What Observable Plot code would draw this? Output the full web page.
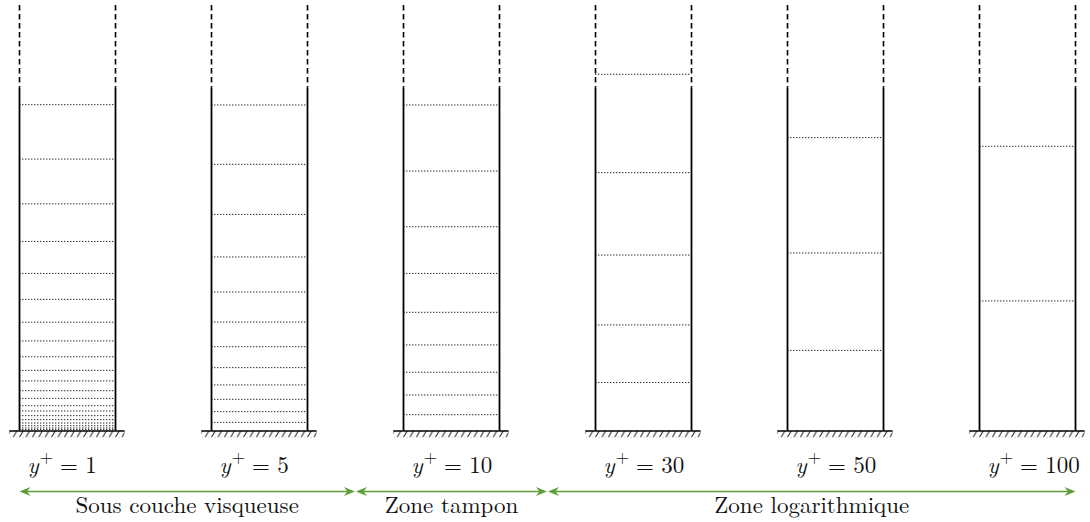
<!DOCTYPE html>
<html>
<head>
<meta charset="utf-8">
<script src="https://cdn.jsdelivr.net/npm/d3@7"></script>
<script src="https://cdn.jsdelivr.net/npm/@observablehq/plot@0.6"></script>
<style>
  html, body { margin: 0; padding: 0; background: #fff; }
  #chart svg { display: block; }
</style>
</head>
<body>
<div id="chart"></div>
<script>
// ---- data (wall distances of the mesh layers, in wall units ≈ y+) ----
const cases = ["1", "5", "10", "30", "50", "100"];
const layersYp1 = [1.0, 1.9, 3.3, 5.0, 7.1, 9.6, 12.5, 15.8, 20.4, 25.2, 31.3, 37.9, 46.4, 56.3, 68.0, 82.3, 98.5, 118.5, 142.0, 170.0, 204.0];
const layersYp5 = [5.4, 12.1, 19.8, 28.8, 39.6, 52.7, 68.1, 86.9, 108.8, 135.4, 166.7, 203.8];
const layersYp10 = [10.2, 22.5, 36.7, 53.8, 74.2, 98.5, 127.7, 162.5, 203.8];
const layersYp30 = [30.3, 66.3, 110.0, 161.5, 223.0];
const layersYp50 = [50.4, 111.3, 183.4];
const layersYp100 = [81.3, 178.0];
const zoneLabels = ["Sous couche visqueuse", "Zone tampon", "Zone logarithmique"];
const zoneFirst = [0, 2, 3];   // index of first case in zone
const zoneLast = [1, 2, 5];    // index of last case in zone

// ---- derived tables ----
const layerSets = [layersYp1, layersYp5, layersYp10, layersYp30, layersYp50, layersYp100];
const wallTop = 214.4, domainTop = 266;
const n = cases.length;
const layers = layerSets.flatMap((arr, i) => arr.map(h => ({i, h})));
const walls = cases.flatMap((c, i) => [2 * i, 2 * i + 1]);
const grounds = cases.map((c, i) => ({x1: 2 * i - 0.1, x2: 2 * i + 1.1}));
const zones = zoneLabels.map((label, k) => {
  const a = zoneFirst[k] === 0 ? 0 : 2 * zoneFirst[k] - 0.5 + 0.006;
  const b = zoneLast[k] === n - 1 ? 2 * zoneLast[k] + 1 : 2 * zoneLast[k] + 1.5 - 0.006;
  return {label, a, b, mid: (a + b) / 2};
});
const heads = zones.flatMap(z => [{x: z.a, r: 180}, {x: z.b, r: 0}]);

const green = "#5e9d3a";
const serif = "Latin Modern Roman, Liberation Serif, DejaVu Serif, serif";
const stealth = {
  draw(ctx) {
    ctx.moveTo(0, 0);
    ctx.lineTo(-11, -4.6);
    ctx.lineTo(-7.5, 0);
    ctx.lineTo(-11, 4.6);
    ctx.closePath();
  }
};

const plot = Plot.plot({
  width: 1090,
  height: 522,
  marginLeft: 19,
  marginRight: 15,
  marginTop: 5,
  marginBottom: 91.5,
  x: {domain: [0, 2 * n - 1], axis: null},
  y: {domain: [0, domainTop], axis: null},
  style: {background: "#fff", overflow: "visible", fontFamily: serif},
  marks: [
    // mesh layers (dotted)
    Plot.ruleY(layers, {y: "h", x1: d => 2 * d.i, x2: d => 2 * d.i + 1,
      stroke: "#000", strokeWidth: 0.85, strokeDasharray: "1.4,1.6"}),
    // solid walls
    Plot.ruleX(walls, {x: d => d, y1: 0, y2: wallTop, stroke: "#000", strokeWidth: 1.8}),
    // dashed continuation
    Plot.ruleX(walls, {x: d => d, y1: domainTop, y2: wallTop, stroke: "#000", strokeWidth: 1.6, strokeDasharray: "5.5,3.5"}),
    // hatching under the ground
    Plot.rect(grounds, {x1: "x1", x2: "x2", y1: 0, y2: 0, insetBottom: -7, fill: "url(#hatch)"}),
    // ground line
    Plot.ruleY(grounds, {y: 0, x1: "x1", x2: "x2", stroke: "#000", strokeWidth: 1.6}),
    // y+ labels
    Plot.text(cases, {x: (d, i) => 2 * i, y: 0, text: d => d, dx: 8, dy: 41.5,
      textAnchor: "start", lineAnchor: "bottom", fontSize: 23, fontFamily: serif,
      fill: "#111", ariaLabel: () => "yplus"}),
    // zone arrows
    Plot.ruleY(zones, {y: 0, x1: "a", x2: "b", dy: 60.5, stroke: green, strokeWidth: 1.7, insetLeft: 3, insetRight: 3}),
    Plot.dot(heads, {x: "x", y: 0, dy: 60.5, rotate: "r", symbol: stealth, fill: green, stroke: "none"}),
    // zone labels
    Plot.text(zones, {x: "mid", y: 0, text: "label", dy: 81.5, lineAnchor: "bottom",
      fontSize: 23, fontFamily: serif, fill: "#111"}),
  ]
});

// hatch pattern aligned on the ground line
const y0 = plot.scale("y").apply(0);
const ns = "http://www.w3.org/2000/svg";
const defs = document.createElementNS(ns, "defs");
defs.innerHTML = `<pattern id="hatch" patternUnits="userSpaceOnUse" x="0" y="${y0}" width="6.4" height="7">
  <path d="M0.2,7 L4.2,0" stroke="#111" stroke-width="0.95" fill="none"/></pattern>`;
plot.insertBefore(defs, plot.firstChild);

// math-style y+ labels
const textGroups = [...plot.querySelectorAll('g[aria-label="text"]')];
let yTexts = [...plot.querySelectorAll('text[aria-label="yplus"], g[aria-label="yplus"] text')];
if (!yTexts.length && textGroups.length) yTexts = [...textGroups[0].querySelectorAll("text")];
yTexts.forEach(t => {
  const val = t.textContent;
  while (t.firstChild) t.removeChild(t.firstChild);
  const mk = (txt, attrs) => {
    const s = document.createElementNS(ns, "tspan");
    s.textContent = txt;
    for (const k in attrs) s.setAttribute(k, attrs[k]);
    t.appendChild(s);
  };
  mk("y", {"font-style": "italic"});
  mk("+", {"font-size": "17", dy: "-9.5", dx: "1"});
  mk("=", {dy: "9.5", dx: "7"});
  mk(val, {dx: "7.5"});
});

document.getElementById("chart").appendChild(plot);
</script>
</body>
</html>
